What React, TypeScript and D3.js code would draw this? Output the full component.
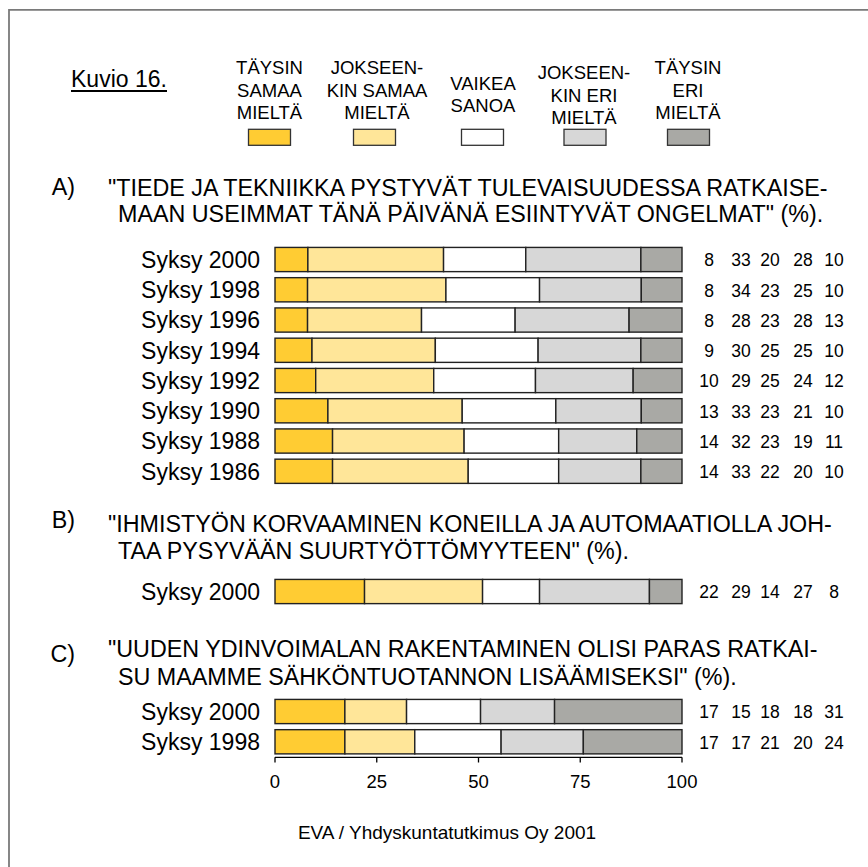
import React from "react";
import * as d3 from "d3";

const categoriesLegend = [
  ["TÄYSIN", "SAMAA", "MIELTÄ"],
  ["JOKSEEN-", "KIN SAMAA", "MIELTÄ"],
  ["VAIKEA", "SANOA"],
  ["JOKSEEN-", "KIN ERI", "MIELTÄ"],
  ["TÄYSIN", "ERI", "MIELTÄ"],
];
const colors = ["#FFCC33", "#FFE699", "#FFFFFF", "#D7D7D7", "#A9A9A5"];

const yearsA = ["Syksy 2000", "Syksy 1998", "Syksy 1996", "Syksy 1994", "Syksy 1992", "Syksy 1990", "Syksy 1988", "Syksy 1986"];
const valuesA = [
  [8, 33, 20, 28, 10],
  [8, 34, 23, 25, 10],
  [8, 28, 23, 28, 13],
  [9, 30, 25, 25, 10],
  [10, 29, 25, 24, 12],
  [13, 33, 23, 21, 10],
  [14, 32, 23, 19, 11],
  [14, 33, 22, 20, 10],
];
const yearsB = ["Syksy 2000"];
const valuesB = [[22, 29, 14, 27, 8]];
const yearsC = ["Syksy 2000", "Syksy 1998"];
const valuesC = [
  [17, 15, 18, 18, 31],
  [17, 17, 21, 20, 24],
];
const titleA = ["\"TIEDE JA TEKNIIKKA PYSTYVÄT TULEVAISUUDESSA RATKAISE-", "MAAN USEIMMAT TÄNÄ PÄIVÄNÄ ESIINTYVÄT ONGELMAT\" (%)."];
const titleB = ["\"IHMISTYÖN KORVAAMINEN KONEILLA JA AUTOMAATIOLLA JOH-", "TAA PYSYVÄÄN SUURTYÖTTÖMYYTEEN\" (%)."];
const titleC = ["\"UUDEN YDINVOIMALAN RAKENTAMINEN OLISI PARAS RATKAI-", "SU MAAMME SÄHKÖNTUOTANNON LISÄÄMISEKSI\" (%)."];
const xTicks = [0, 25, 50, 75, 100];

const FONT = "'Liberation Sans', Arial, Helvetica, sans-serif";
const x = d3.scaleLinear().domain([0, 100]).range([275, 682]);
const valueCols = [709, 741, 770, 803, 834];

function Block({ years, values, r0 }: { years: string[]; values: number[][]; r0: number }) {
  const y = d3.scaleBand<string>().domain(years).range([r0, r0 + years.length * 30.25]).paddingInner(0.2).paddingOuter(0.1);
  const stack = d3.stack<number[]>().keys([0, 1, 2, 3, 4] as any).value((d: number[], k: any) => (d[k] / d3.sum(d)) * 100);
  const series = stack(values);
  return (
    <g>
      {years.map((yr, i) => {
        const cy = (y(yr) as number) + y.bandwidth() / 2;
        return (
          <g key={yr}>
            <text x={260} y={cy + 8.3} textAnchor="end" fontSize={23} fontFamily={FONT} fill="#000">{yr}</text>
            {values[i].map((v, j) => (
              <text key={j} x={valueCols[j]} y={cy + 6.8} textAnchor="middle" fontSize={17.5} fontFamily={FONT} fill="#000">{v}</text>
            ))}
          </g>
        );
      })}
      {series.map((s, j) => (
        <g key={j}>
          {s.map((d, i) => (
            <rect key={i} x={x(d[0])} y={y(years[i])} width={x(d[1]) - x(d[0])} height={y.bandwidth()}
              fill={colors[j]} stroke="#222" strokeWidth={1.4} />
          ))}
        </g>
      ))}
    </g>
  );
}

function Title({ label, lines, y1, y2, dl }: { label: string; lines: string[]; y1: number; y2: number; dl: number }) {
  return (
    <g fontFamily={FONT} fontSize={23.3} fill="#000">
      <text x={75} y={y1 + dl} textAnchor="end">{label}</text>
      <text x={108} y={y1}>{lines[0]}</text>
      <text x={118} y={y2}>{lines[1]}</text>
    </g>
  );
}

export default function App() {
  const legendTextX = [269.5, 377, 483, 584, 688];
  const legendSwX = [269.5, 374.5, 482.5, 585, 688.5];
  const legendY0 = [74, 74, 89.5, 79, 74];
  return (
    <svg width={868} height={867} style={{ position: "absolute", left: 0, top: 0, background: "#fff" }}>
      <rect x={0} y={0} width={868} height={867} fill="#fff" />
      <path d="M9,867 V9.8 H868" fill="none" stroke="#7a7a7a" strokeWidth={1.8} />
      <text x={71} y={87.3} fontSize={23} fontFamily={FONT}>Kuvio 16.</text>
      <line x1={71} x2={167} y1={91} y2={91} stroke="#000" strokeWidth={2} />
      {categoriesLegend.map((lines, i) => (
        <g key={i}>
          {lines.map((l, k) => (
            <text key={k} x={legendTextX[i]} y={legendY0[i] + k * 22.7} textAnchor="middle" fontSize={18.5} fontFamily={FONT}>{l}</text>
          ))}
          <rect x={legendSwX[i] - 21} y={129.3} width={42} height={16} fill={colors[i]} stroke="#333" strokeWidth={1.3} />
        </g>
      ))}
      <Title label="A)" lines={titleA} y1={196} y2={222} dl={-1} />
      <Block years={yearsA} values={valuesA} r0={244.4} />
      <Title label="B)" lines={titleB} y1={532} y2={559} dl={-4} />
      <Block years={yearsB} values={valuesB} r0={576.4} />
      <Title label="C)" lines={titleC} y1={657} y2={685} dl={5} />
      <Block years={yearsC} values={valuesC} r0={696.4} />
      <g>
        <line x1={x(0)} x2={x(100)} y1={757.3} y2={757.3} stroke="#000" strokeWidth={1.3} />
        {xTicks.map((t) => (
          <g key={t}>
            <line x1={x(t)} x2={x(t)} y1={757.3} y2={762.5} stroke="#000" strokeWidth={1.3} />
            <text x={x(t)} y={788.3} textAnchor="middle" fontSize={18.5} fontFamily={FONT}>{t}</text>
          </g>
        ))}
      </g>
      <text x={447} y={839} textAnchor="middle" fontSize={19} fontFamily={FONT}>EVA / Yhdyskuntatutkimus Oy 2001</text>
    </svg>
  );
}
